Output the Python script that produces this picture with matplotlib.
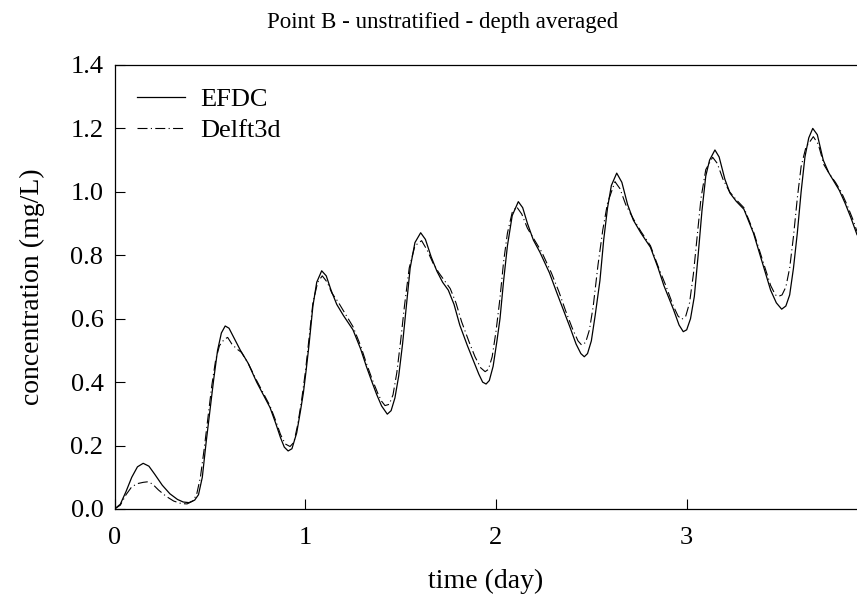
import matplotlib
matplotlib.use('Agg')
import matplotlib.pyplot as plt

# EFDC model, depth averaged concentration at point B
efdc_t = [0.000, 0.03, 0.06, 0.09, 0.12, 0.15, 0.18, 0.21, 0.25, 0.29, 0.33, 0.36, 0.39, 0.42,
          0.44, 0.46, 0.48, 0.50, 0.52, 0.54, 0.56, 0.58, 0.60, 0.63, 0.66, 0.70, 0.745, 0.78,
          0.815, 0.845, 0.87, 0.89, 0.91, 0.93, 0.955, 0.975, 0.99, 1.005, 1.02, 1.04, 1.06,
          1.086, 1.11, 1.135, 1.165, 1.20, 1.25, 1.29, 1.32, 1.35, 1.375, 1.40, 1.43, 1.45,
          1.47, 1.49, 1.51, 1.53, 1.55, 1.575, 1.605, 1.63, 1.66, 1.69, 1.72, 1.75, 1.78, 1.81,
          1.85, 1.88, 1.91, 1.93, 1.948, 1.965, 1.985, 2.005, 2.021, 2.04, 2.06, 2.085, 2.117,
          2.14, 2.165, 2.196, 2.23, 2.28, 2.32, 2.355, 2.39, 2.42, 2.445, 2.463, 2.48, 2.50,
          2.52, 2.545, 2.565, 2.585, 2.605, 2.633, 2.66, 2.69, 2.72, 2.76, 2.81, 2.85, 2.88,
          2.93, 2.96, 2.982, 3.00, 3.02, 3.04, 3.06, 3.08, 3.10, 3.12, 3.148, 3.17, 3.20, 3.227,
          3.26, 3.30, 3.35, 3.40, 3.44, 3.47, 3.498, 3.52, 3.54, 3.56, 3.58, 3.60, 3.62, 3.64,
          3.661, 3.685, 3.716, 3.745, 3.77, 3.80, 3.83, 3.86, 3.893]
efdc_c = [0.000, 0.015, 0.055, 0.100, 0.133, 0.144, 0.135, 0.110, 0.075, 0.048, 0.030, 0.022,
          0.020, 0.028, 0.045, 0.100, 0.210, 0.310, 0.410, 0.500, 0.555, 0.577, 0.570, 0.535,
          0.500, 0.460, 0.400, 0.360, 0.320, 0.270, 0.225, 0.195, 0.183, 0.190, 0.240, 0.310,
          0.366, 0.440, 0.520, 0.640, 0.715, 0.751, 0.735, 0.690, 0.645, 0.610, 0.565, 0.505,
          0.450, 0.400, 0.360, 0.325, 0.299, 0.310, 0.350, 0.420, 0.520, 0.640, 0.760, 0.840,
          0.871, 0.850, 0.795, 0.750, 0.715, 0.690, 0.645, 0.580, 0.515, 0.470, 0.425, 0.400,
          0.394, 0.405, 0.450, 0.530, 0.600, 0.720, 0.830, 0.925, 0.969, 0.950, 0.900, 0.848,
          0.810, 0.745, 0.680, 0.625, 0.570, 0.520, 0.490, 0.480, 0.490, 0.530, 0.610, 0.720,
          0.850, 0.950, 1.020, 1.059, 1.030, 0.960, 0.911, 0.870, 0.825, 0.760, 0.705, 0.630,
          0.580, 0.559, 0.565, 0.600, 0.670, 0.800, 0.940, 1.050, 1.100, 1.132, 1.110, 1.040,
          0.996, 0.970, 0.945, 0.870, 0.770, 0.690, 0.650, 0.630, 0.640, 0.675, 0.760, 0.870,
          1.000, 1.110, 1.170, 1.200, 1.180, 1.100, 1.060, 1.035, 1.005, 0.965, 0.920, 0.865]

# Delft3d model
delft_t = [0.00, 0.03, 0.06, 0.09, 0.12, 0.15, 0.177, 0.20, 0.23, 0.27, 0.31, 0.35, 0.38, 0.41,
           0.43, 0.45, 0.47, 0.49, 0.51, 0.53, 0.55, 0.575, 0.593, 0.615, 0.64, 0.665, 0.70,
           0.745, 0.78, 0.815, 0.845, 0.87, 0.895, 0.92, 0.94, 0.96, 0.98, 1.00, 1.02, 1.04,
           1.065, 1.089, 1.115, 1.14, 1.17, 1.20, 1.25, 1.29, 1.32, 1.35, 1.38, 1.40, 1.418,
           1.44, 1.46, 1.48, 1.50, 1.52, 1.545, 1.575, 1.61, 1.64, 1.67, 1.70, 1.73, 1.76, 1.79,
           1.82, 1.86, 1.89, 1.92, 1.943, 1.96, 1.98, 2.00, 2.02, 2.04, 2.06, 2.085, 2.108,
           2.135, 2.165, 2.20, 2.24, 2.29, 2.33, 2.365, 2.40, 2.43, 2.449, 2.47, 2.49, 2.51,
           2.535, 2.56, 2.585, 2.624, 2.65, 2.68, 2.72, 2.76, 2.81, 2.85, 2.89, 2.93, 2.955,
           2.974, 2.995, 3.015, 3.035, 3.055, 3.075, 3.10, 3.136, 3.16, 3.19, 3.225, 3.26, 3.30,
           3.35, 3.40, 3.44, 3.465, 3.48, 3.50, 3.52, 3.54, 3.56, 3.58, 3.60, 3.625, 3.664,
           3.69, 3.72, 3.75, 3.78, 3.81, 3.84, 3.87, 3.893]
delft_c = [0.000, 0.012, 0.045, 0.070, 0.080, 0.084, 0.086, 0.078, 0.060, 0.040, 0.025, 0.017,
           0.016, 0.025, 0.045, 0.100, 0.190, 0.290, 0.390, 0.470, 0.515, 0.535, 0.541, 0.520,
           0.505, 0.494, 0.460, 0.405, 0.365, 0.325, 0.278, 0.235, 0.205, 0.197, 0.210, 0.265,
           0.340, 0.430, 0.540, 0.650, 0.715, 0.735, 0.715, 0.680, 0.655, 0.625, 0.575, 0.515,
           0.460, 0.410, 0.365, 0.340, 0.326, 0.330, 0.360, 0.430, 0.530, 0.640, 0.760, 0.830,
           0.846, 0.815, 0.775, 0.745, 0.720, 0.695, 0.650, 0.590, 0.525, 0.480, 0.445, 0.433,
           0.440, 0.480, 0.560, 0.660, 0.780, 0.870, 0.935, 0.953, 0.930, 0.885, 0.850, 0.810,
           0.745, 0.685, 0.625, 0.570, 0.530, 0.517, 0.525, 0.565, 0.640, 0.770, 0.880, 0.965,
           1.032, 1.010, 0.960, 0.915, 0.875, 0.830, 0.765, 0.705, 0.640, 0.608, 0.598, 0.608,
           0.650, 0.740, 0.860, 0.980, 1.070, 1.109, 1.090, 1.040, 1.000, 0.975, 0.950, 0.875,
           0.780, 0.705, 0.675, 0.670, 0.675, 0.700, 0.760, 0.860, 0.980, 1.080, 1.140, 1.174,
           1.150, 1.085, 1.055, 1.030, 1.000, 0.960, 0.915, 0.875]

x_ticks = [0, 1, 2, 3]
y_ticks = [0.0, 0.2, 0.4, 0.6, 0.8, 1.0, 1.2, 1.4]

plt.rcParams['font.family'] = ['Liberation Serif', 'DejaVu Serif']

fig = plt.figure(figsize=(8.57, 6.01), dpi=100)
ax = fig.add_axes([0.1337, 0.1531, 0.8663, 0.7388])

ax.plot(efdc_t, efdc_c, color='black', lw=0.9, label='EFDC')
ax.plot(delft_t, delft_c, color='black', lw=0.8, linestyle=(0, (9, 3, 1, 3)), label='Delft3d')

ax.set_xlim(0, 3.893)
ax.set_ylim(0, 1.4)
ax.set_xticks(x_ticks)
ax.set_yticks(y_ticks)
ax.set_yticklabels(['%.1f' % v for v in y_ticks])
ax.tick_params(direction='in', length=7, width=0.8, labelsize=19,
               top=False, right=False)
ax.tick_params(axis='x', pad=13)
ax.tick_params(axis='y', pad=8)
ax.spines['right'].set_visible(False)
for s in ['left', 'bottom', 'top']:
    ax.spines[s].set_linewidth(0.9)

ax.set_xlabel('time (day)', fontsize=20, labelpad=14)
ax.set_ylabel('concentration (mg/L)', fontsize=20, labelpad=18)
fig.text(0.516, 0.953, 'Point B - unstratified - depth averaged', fontsize=16.5,
         ha='center', va='baseline')

ax.legend(loc='upper left', frameon=False, fontsize=19, handlelength=1.8,
          handletextpad=0.6, labelspacing=0.3, borderaxespad=0.45)

fig.savefig('out.png', dpi=100)
